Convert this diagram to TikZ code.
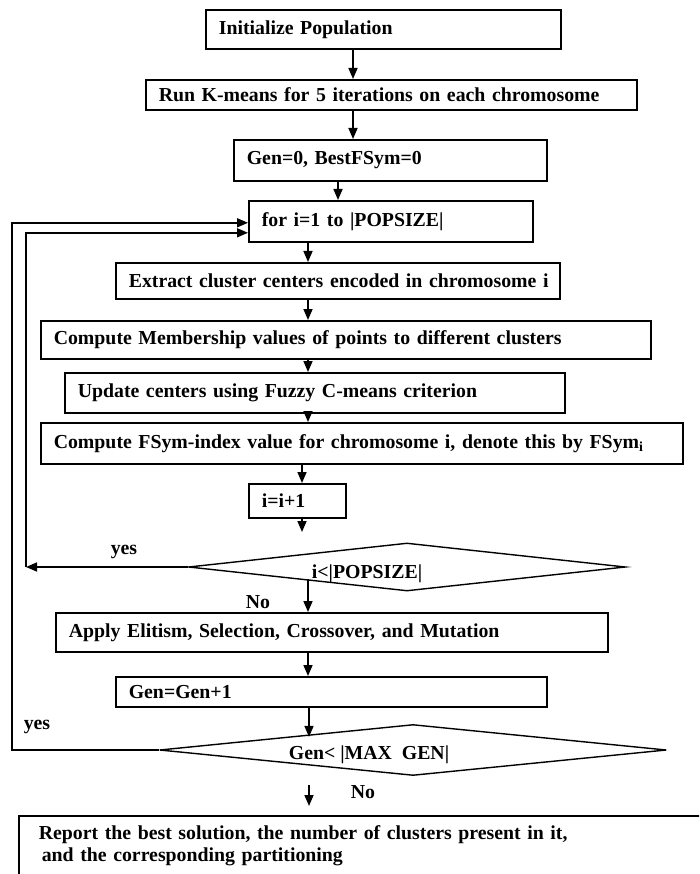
\documentclass[tikz,border=0pt]{standalone}
\usepackage{fontspec}
\setmainfont{Liberation Serif}
\usetikzlibrary{arrows.meta,shapes.geometric}

\begin{document}
\begin{tikzpicture}[x=1pt,y=-1pt,
  font=\fontsize{19.8}{22}\selectfont\bfseries,
  stepbox/.style={draw, line width=1.6pt, anchor=north west, align=left, inner xsep=13pt, inner ysep=0pt},
  testbox/.style={draw, line width=1.4pt, shape=diamond, inner sep=0pt},
  flow/.style={line width=1.6pt, -{Triangle[length=11pt,width=9pt]}}]
\useasboundingbox (0,0) rectangle (699,874);
\clip (0,0) rectangle (699,874);
% process boxes
\node[stepbox, text width=329pt, minimum height=39pt] (init) at (205,9) {Initialize Population};
\node[stepbox, text width=465pt, minimum height=30pt] (kmeans) at (145,79) {Run K-means for 5 iterations on each chromosome};
\node[stepbox, text width=287pt, minimum height=41pt] (gen0) at (233,139) {Gen=0, BestFSym=0};
\node[stepbox, text width=258pt, minimum height=41pt] (fori) at (248,200) {for i=1 to |POPSIZE|};
\node[stepbox, text width=418pt, minimum height=36pt] (extract) at (115,262) {\mbox{Extract cluster centers encoded in chromosome i}};
\node[stepbox, text width=584pt, minimum height=38pt] (member) at (40,320) {Compute Membership values of points to different clusters};
\node[stepbox, text width=474pt, minimum height=40pt] (update) at (64,372) {Update centers using Fuzzy C-means criterion};
\node[stepbox, text width=616pt, minimum height=41pt] (fsym) at (40,422) {Compute FSym-index value for chromosome i, denote this by FSym\textsubscript{i}};
\node[stepbox, text width=71pt, minimum height=34pt] (incr) at (248,483) {i=i+1};
\node[stepbox, text width=526pt, minimum height=39pt] (apply) at (55,612) {Apply Elitism, Selection, Crossover, and Mutation};
\node[stepbox, text width=405pt, minimum height=30pt] (gen1) at (115,676) {Gen=Gen+1};
\node[stepbox, text width=650pt, inner xsep=20pt, inner ysep=10pt] (report) at (18,815)
  {Report the best solution, the number of clusters present in it,\\\hspace{3pt}and the corresponding partitioning\\[20pt]\strut};
% decisions
\node[testbox, minimum width=437pt, minimum height=48pt, label={[xshift=-40pt,yshift=-7pt]center:i<|POPSIZE|}] (dia1) at (407,567) {};
\node[testbox, minimum width=507pt, minimum height=51pt, label={[xshift=-44pt,yshift=-5pt]center:Gen<\ |MAX\ \ GEN|}] (dia2) at (413,750) {};
% x positions of the arrows
\coordinate (xa) at (353,0);
\coordinate (xb) at (338,0);
\coordinate (xc) at (308,0);
\coordinate (xd) at (302,0);
\coordinate (xe) at (309,0);
\coordinate (inner) at (26,0);
\coordinate (outer) at (12,0);
\coordinate (d1in) at (302,532);
\coordinate (nostart) at (309,785);
\coordinate (noend) at (309,806);
% flow
\draw[flow] (init.south -| xa) -- (kmeans.north -| xa);
\draw[flow] (kmeans.south -| xa) -- (gen0.north -| xa);
\draw[flow] (gen0.south -| xb) -- (fori.north -| xb);
\draw[flow] (fori.south -| xc) -- (extract.north -| xc);
\draw[flow] (extract.south -| xc) -- (member.north -| xc);
\draw[flow] (member.south -| xc) -- (update.north -| xc);
\draw[flow] (update.south -| xc) -- (fsym.north -| xc);
\draw[flow] (fsym.south -| xd) -- (incr.north -| xd);
\draw[flow] (incr.south -| xd) -- (d1in);
\draw[flow] (dia1.south west -| xc) -- (apply.north -| xc);
\draw[flow] (apply.south -| xc) -- (gen1.north -| xc);
\draw[flow] (gen1.south -| xe) -- (dia2.north west -| xe);
\draw[flow] (nostart) -- (noend);
% loops back
\draw[flow] (dia1.west) -- (dia1.west -| inner);
\draw[flow] (dia1.west -| inner) |- ([yshift=-11.5pt]fori.west);
\draw[flow] (dia2.west) -- (dia2.west -| outer) |- ([yshift=-1.5pt]fori.west);
% labels
\node (yes1) at (124,552) {yes};
\node (no1) at (258,602) {No};
\node (yes2) at (37,727) {yes};
\node (no2) at (363,792) {No};
\end{tikzpicture}
\end{document}
